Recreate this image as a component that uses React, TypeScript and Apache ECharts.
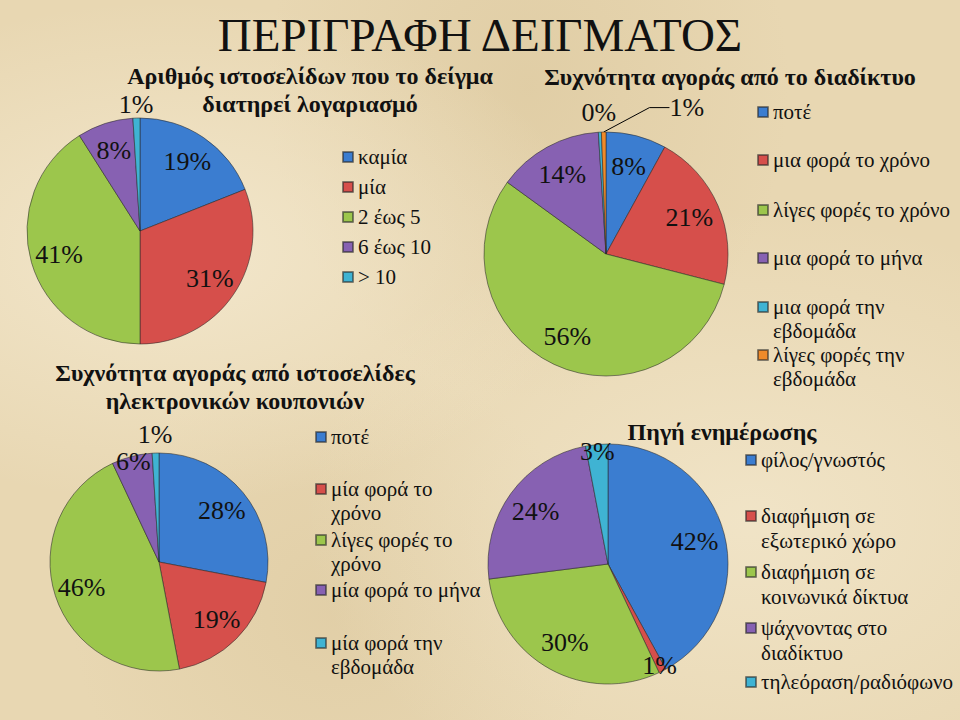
import React, { useEffect, useRef } from "react";
import * as echarts from "echarts";

// ---------- text & data ----------
const mainTitle = "ΠΕΡΙΓΡΑΦΗ ΔΕΙΓΜΑΤΟΣ";

const accountsTitle = ["Αριθμός ιστοσελίδων που το δείγμα", "διατηρεί λογαριασμό"];
const accountsCategories = ["καμία", "μία", "2 έως 5", "6 έως 10", "> 10"];
const accountsValues = [19, 31, 41, 8, 1];

const onlineTitle = ["Συχνότητα αγοράς από το διαδίκτυο"];
const onlineCategories = [
  "ποτέ",
  "μια φορά το χρόνο",
  "λίγες φορές το χρόνο",
  "μια φορά το μήνα",
  "μια φορά την εβδομάδα",
  "λίγες φορές την εβδομάδα",
];
const onlineValues = [8, 21, 56, 14, 0.4, 0.6];

const couponTitle = ["Συχνότητα αγοράς από ιστοσελίδες", "ηλεκτρονικών κουπονιών"];
const couponCategories = [
  "ποτέ",
  "μία φορά το χρόνο",
  "λίγες φορές το χρόνο",
  "μία φορά το μήνα",
  "μία φορά την εβδομάδα",
];
const couponValues = [28, 19, 46, 6, 1];

const sourceTitle = ["Πηγή ενημέρωσης"];
const sourceCategories = [
  "φίλος/γνωστός",
  "διαφήμιση σε εξωτερικό χώρο",
  "διαφήμιση σε κοινωνικά δίκτυα",
  "ψάχνοντας στο διαδίκτυο",
  "τηλεόραση/ραδιόφωνο",
];
const sourceValues = [42, 1, 30, 24, 3];

// ---------- styling / layout ----------
const palette = ["#3b7dd0", "#d64f4b", "#9cc64c", "#8761b2", "#3fb3d3", "#ef8a2a"];
const ink = "#111111";
const serif = '"Liberation Serif", "Times New Roman", serif';

const legendWrap: Record<string, string> = {
  "μια φορά την εβδομάδα": "μια φορά την\nεβδομάδα",
  "λίγες φορές την εβδομάδα": "λίγες φορές την\nεβδομάδα",
  "μία φορά το χρόνο": "μία φορά το\nχρόνο",
  "λίγες φορές το χρόνο#c": "λίγες φορές το\nχρόνο",
  "μία φορά την εβδομάδα": "μία φορά την\nεβδομάδα",
  "διαφήμιση σε εξωτερικό χώρο": "διαφήμιση σε\nεξωτερικό χώρο",
  "διαφήμιση σε κοινωνικά δίκτυα": "διαφήμιση σε\nκοινωνικά δίκτυα",
  "ψάχνοντας στο διαδίκτυο": "ψάχνοντας στο\nδιαδίκτυο",
};

// label ring (fractions of radius) per placement kind
const ringFor: Record<string, [number, number]> = {
  in: [0.44, 1.0],
  edge: [0.84, 1.0],
  out: [1.0, 1.28],
};

type PieCfg = {
  id: string;
  cats: string[];
  vals: number[];
  center: [number, number];
  r: number;
  placement: string[];
  outRing?: [number, number];
  title: string[];
  titleX: number;
  titleYs: number[];
  legendLeft: number;
  legendRows: number[];
  legendLH: number;
  wrapKey?: string;
};

const pies: PieCfg[] = [
  {
    id: "accounts",
    cats: accountsCategories,
    vals: accountsValues,
    center: [140, 231],
    r: 113,
    placement: ["in", "in", "in", "in", "out"],
    outRing: [1.0, 1.18],
    title: accountsTitle,
    titleX: 310,
    titleYs: [76, 104],
    legendLeft: 342,
    legendRows: [157, 187, 217, 247, 277],
    legendLH: 24,
  },
  {
    id: "online",
    cats: onlineCategories,
    vals: onlineValues,
    center: [606, 254],
    r: 122,
    placement: ["in", "in", "in", "in", "out", "lead"],
    title: onlineTitle,
    titleX: 730,
    titleYs: [77],
    legendLeft: 757,
    legendRows: [112, 160, 210, 258, 306, 354],
    legendLH: 24,
  },
  {
    id: "coupon",
    cats: couponCategories,
    vals: couponValues,
    center: [159, 562],
    r: 109,
    placement: ["in", "in", "in", "edge", "out"],
    title: couponTitle,
    titleX: 235,
    titleYs: [373, 401],
    legendLeft: 315,
    legendRows: [437, 488, 539, 590, 642],
    legendLH: 24,
    wrapKey: "#c",
  },
  {
    id: "source",
    cats: sourceCategories,
    vals: sourceValues,
    center: [608, 564],
    r: 120,
    placement: ["in", "edge", "in", "in", "edge"],
    title: sourceTitle,
    titleX: 722,
    titleYs: [432],
    legendLeft: 745,
    legendRows: [460, 515, 571, 627, 682],
    legendLH: 25,
  },
];

const labelText = {
  fontFamily: serif,
  fontSize: 26,
  lineHeight: 22,
  color: ink,
};

const pctFormatter = (p: any) => Math.round(p.value) + "%";

function buildOption() {
  const mainSeries: any[] = [];
  const overlaySeries: any[] = [];
  const legends: any[] = [];
  const graphics: any[] = [
    {
      type: "text",
      x: 480,
      y: 35,
      style: {
        text: mainTitle,
        textAlign: "center",
        textVerticalAlign: "middle",
        font: '47px "Liberation Serif"',
        fill: ink,
      },
    },
  ];

  pies.forEach((p) => {
    const leadIdx = p.placement.indexOf("lead");
    mainSeries.push({
      type: "pie",
      name: p.id,
      center: p.center,
      radius: [0, p.r],
      startAngle: 90,
      clockwise: true,
      avoidLabelOverlap: false,
      silent: true,
      emphasis: { disabled: true },
      itemStyle: { borderColor: "rgba(40,40,40,0.55)", borderWidth: 1 },
      label: { show: false },
      labelLine: { show: false },
      labelLayout:
        leadIdx >= 0
          ? (params: any) =>
              params.dataIndex === leadIdx
                ? { x: p.center[0] + p.r * 0.52, y: p.center[1] - p.r * 1.2, align: "left", verticalAlign: "middle" }
                : {}
          : undefined,
      data: p.cats.map((name, i) => ({
        name,
        value: p.vals[i],
        itemStyle: { color: palette[i] },
        label:
          i === leadIdx
            ? { show: true, position: "outside", formatter: pctFormatter, ...labelText }
            : { show: false },
        labelLine:
          i === leadIdx
            ? { show: true, length: 8, length2: 20, lineStyle: { color: "#000", width: 1 } }
            : { show: false },
      })),
    });

    Object.keys(ringFor).forEach((kind) => {
      if (!p.placement.includes(kind)) return;
      const [f0, f1] = kind === "out" && p.outRing ? p.outRing : ringFor[kind];
      overlaySeries.push({
        type: "pie",
        name: p.id + "-" + kind,
        center: p.center,
        radius: [p.r * f0, p.r * f1],
        startAngle: 90,
        clockwise: true,
        avoidLabelOverlap: false,
        silent: true,
        emphasis: { disabled: true },
        itemStyle: { color: "rgba(0,0,0,0)", borderWidth: 0 },
        labelLine: { show: false },
        label: { show: false, position: "inside", formatter: pctFormatter, ...labelText },
        data: p.cats.map((name, i) => ({
          name,
          value: p.vals[i],
          label: { show: p.placement[i] === kind },
        })),
      });
    });

    p.title.forEach((line, k) => {
      graphics.push({
        type: "text",
        x: p.titleX,
        y: p.titleYs[k],
        style: {
          text: line,
          textAlign: "center",
          textVerticalAlign: "middle",
          font: 'bold 24px "Liberation Serif"',
          fill: ink,
        },
      });
    });

    const w = 10;
    p.cats.forEach((name, i) => {
      const text = legendWrap[name + (p.wrapKey || "")] ?? legendWrap[name] ?? name;
      const n = text.split("\n").length;
      const lh = p.legendLH;
      const h = n * lh;
      const icon =
        n > 1 ? `path://M0,0M${w},${h}M0,${lh / 2 - w / 2}h${w}v${w}h-${w}Z` : "rect";
      legends.push({
        data: [name],
        left: p.legendLeft,
        top: p.legendRows[i] - lh / 2,
        orient: "vertical",
        padding: 0,
        itemGap: 0,
        itemWidth: w,
        itemHeight: n > 1 ? h : w,
        icon,
        selectedMode: false,
        formatter: () => text,
        textStyle: {
          fontFamily: serif,
          fontSize: 21,
          lineHeight: lh,
          color: ink,
        },
      });
    });
  });

  return {
    animation: false,
    backgroundColor: "transparent",
    legend: legends,
    graphic: graphics,
    series: [...mainSeries, ...overlaySeries],
  };
}

export default function App() {
  const ref = useRef<HTMLDivElement>(null);
  useEffect(() => {
    if (!ref.current) return;
    const chart = echarts.init(ref.current, undefined, { renderer: "svg" });
    chart.setOption(buildOption() as any);
    return () => chart.dispose();
  }, []);
  return (
    <div
      style={{
        position: "absolute",
        left: 0,
        top: 0,
        width: 960,
        height: 720,
        background:
          "radial-gradient(ellipse at 18% 35%, rgba(246,236,212,0.75), rgba(246,236,212,0) 38%)," +
          "radial-gradient(ellipse at 78% 72%, rgba(246,236,212,0.6), rgba(246,236,212,0) 42%)," +
          "radial-gradient(ellipse at 55% 12%, rgba(210,188,142,0.35), rgba(210,188,142,0) 35%)," +
          "radial-gradient(ellipse at 35% 85%, rgba(210,188,142,0.3), rgba(210,188,142,0) 30%)," +
          "#e8d7b2",
      }}
    >
      <div ref={ref} style={{ width: 960, height: 720 }} />
    </div>
  );
}
